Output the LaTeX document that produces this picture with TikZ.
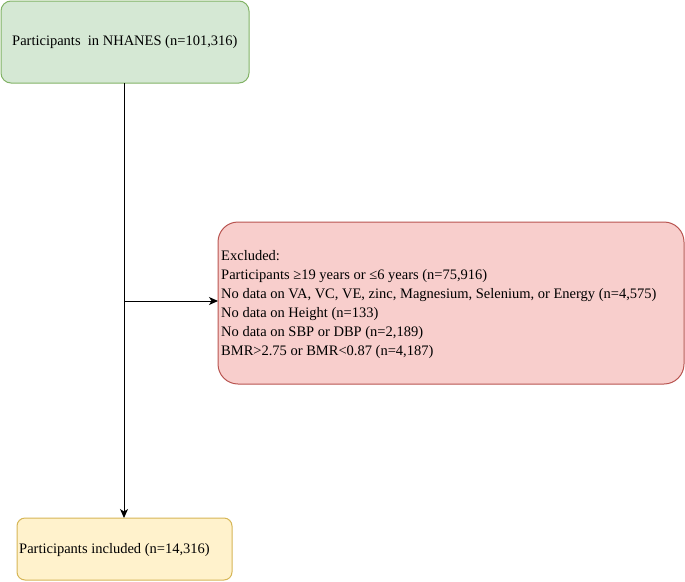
\documentclass[tikz,border=0pt]{standalone}
\usepackage{fontspec}
\setmainfont{Liberation Serif}
\usetikzlibrary{arrows.meta}
\definecolor{gfill}{HTML}{D5E8D4}
\definecolor{gline}{HTML}{82B366}
\definecolor{rfill}{HTML}{F8CECC}
\definecolor{rline}{HTML}{B85450}
\definecolor{yfill}{HTML}{FFF2CC}
\definecolor{yline}{HTML}{D6B656}
\begin{document}
\begin{tikzpicture}[x=1pt,y=-1pt,
  boxstyle/.style={draw, line width=1pt},
  txt/.style={anchor=west, inner sep=0pt, font=\fontsize{14.5}{19}\selectfont, align=left},
  conn/.style={line width=1pt, -{Stealth[length=9pt,width=8pt,inset=2.5pt]}}]
\useasboundingbox (0,0) rectangle (685,581);
\draw[boxstyle, fill=gfill, draw=gline, rounded corners=10pt] (1,1) rectangle (249,83);
\node (top) [txt] at (12,42) {Participants\ \ in NHANES (n=101,316)};
\draw[boxstyle, fill=rfill, draw=rline, rounded corners=20pt] (218,222) rectangle (684,384);
\node (excl) [txt] at (221,305) {Excluded:\\Participants ≥19 years or ≤6 years (n=75,916)\\No data on VA, VC, VE, zinc, Magnesium, Selenium, or Energy (n=4,575)\\No data on Height (n=133)\\No data on SBP or DBP (n=2,189)\\BMR>2.75 or BMR<0.87 (n=4,187)};
\draw[boxstyle, fill=yfill, draw=yline, rounded corners=8pt] (17,518) rectangle (232,580);
\node (incl) [txt] at (19,550) {Participants included (n=14,316)};
\coordinate (a) at (124,83);
\coordinate (b) at (124,518);
\coordinate (m) at (124,301);
\coordinate (e) at (218,301);
\draw[conn] (a) -- (b);
\draw[conn] (m) -- (e);
\end{tikzpicture}
\end{document}
